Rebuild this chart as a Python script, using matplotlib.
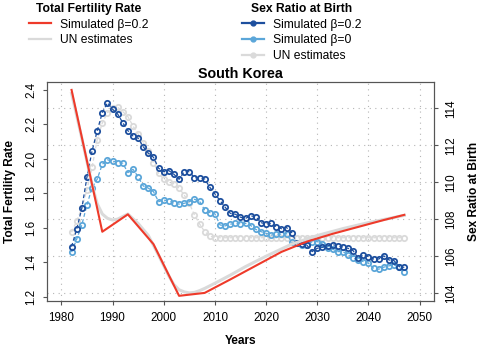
import matplotlib
matplotlib.use('Agg')
import matplotlib.pyplot as plt
from matplotlib.lines import Line2D

plt.rcParams['font.family'] = ['Liberation Sans', 'DejaVu Sans']
plt.rcParams['font.size'] = 8.6

# sex ratio at birth, one value per year 1982..2047
years = list(range(1982, 2048))
srb_beta02 = [106.52, 107.46, 108.59, 110.27, 111.69, 112.77, 113.76, 114.30, 113.95, 113.69,
              113.22, 112.79, 112.50, 112.38, 111.92, 111.57, 111.35, 110.76, 110.57, 110.63,
              110.43, 110.16, 110.57, 110.57, 110.25, 110.22, 110.18, 109.73, 109.37, 109.01,
              108.65, 108.32, 108.27, 108.11, 108.05, 108.18, 108.14, 107.82, 107.73, 107.78,
              107.60, 107.49, 107.55, 107.28, 106.70, 106.65, 106.59, 106.25, 106.43, 106.49,
              106.56, 106.63, 106.56, 106.50, 106.43, 106.30, 105.89, 106.07, 105.98, 105.85,
              105.85, 106.02, 105.80, 105.76, 105.44, 105.40]
srb_beta0 = [106.22, 106.92, 107.69, 108.77, 109.71, 110.16, 110.97, 111.21, 111.15, 111.06,
             111.03, 110.52, 110.70, 110.30, 109.80, 109.68, 109.49, 108.95, 109.04, 108.99,
             108.86, 108.82, 108.86, 108.95, 109.08, 108.97, 108.50, 108.36, 108.29, 107.69,
             107.64, 107.73, 107.78, 107.75, 107.78, 107.66, 107.45, 107.33, 107.24, 107.15,
             107.18, 107.20, 107.22, 106.75, 106.70, 106.62, 106.62, 106.79, 106.79, 106.66,
             106.43, 106.38, 106.25, 106.25, 106.07, 105.89, 105.80, 105.71, 105.62, 105.35,
             105.30, 105.41, 105.48, 105.53, 105.40, 105.17]
srb_un = [107.30, 107.90, 108.60, 109.60, 110.80, 112.30, 113.20, 113.76, 114.00, 114.05,
          113.82, 113.55, 113.04, 112.61, 112.14, 111.69, 111.06, 110.49, 110.16, 110.03,
          109.91, 109.68, 109.31, 108.86, 108.23, 107.75, 107.33, 107.10, 107.00, 107.00,
          107.00, 107.00, 107.00, 107.00, 107.00, 107.00, 107.00, 107.00, 107.00, 107.00,
          107.00, 107.00, 107.00, 107.00, 107.00, 107.00, 107.00, 107.00, 107.00, 107.00,
          107.00, 107.00, 107.00, 107.00, 107.00, 107.00, 107.00, 107.00, 107.00, 107.00,
          107.00, 107.00, 107.00, 107.00, 107.00, 107.00]

# total fertility rate
tfr_sim_years = [1982, 1988, 1993, 1998, 2003, 2008, 2013, 2018, 2023, 2028, 2033, 2038, 2043, 2047]
tfr_sim = [2.40, 1.577, 1.678, 1.505, 1.205, 1.222, 1.30, 1.38, 1.46, 1.52, 1.565, 1.605, 1.645, 1.675]
tfr_un_years = [1982, 1984, 1986, 1987, 1988, 1989, 1990, 1991, 1992, 1993, 1995, 1997, 1999, 2001,
                2002, 2003, 2004, 2005, 2006, 2007, 2008, 2010, 2013, 2016, 2020, 2025, 2030, 2035,
                2040, 2045, 2047]
tfr_un = [2.38, 2.12, 1.85, 1.74, 1.68, 1.655, 1.645, 1.65, 1.665, 1.68, 1.625, 1.555, 1.44, 1.32,
          1.27, 1.24, 1.228, 1.222, 1.225, 1.235, 1.248, 1.278, 1.325, 1.375, 1.435, 1.505, 1.555,
          1.595, 1.63, 1.66, 1.672]

RED = '#ee3a2a'
DARK = '#1d4f9e'
LIGHT = '#5ba6d9'
GREY = '#dadada'
FAM = ['Liberation Sans', 'DejaVu Sans']

fig = plt.figure(figsize=(4.8, 3.47), dpi=100)
ax = fig.add_axes([47/480, 1 - 301/347, (434 - 47)/480, (301 - 82)/347])
ax2 = ax.twinx()

# SRB on the bottom axes, ticks on the right
ax.yaxis.tick_right()
ax.yaxis.set_label_position('right')
ax2.yaxis.tick_left()
ax2.yaxis.set_label_position('left')

mk = dict(marker='o', ms=3.8, mfc='none', mew=1.3, lw=0.9, linestyle=(0, (3, 2)))
ax.plot(years, srb_un, color=GREY, **mk)
ax.plot(years, srb_beta0, color=LIGHT, **mk)
ax.plot(years, srb_beta02, color=DARK, **mk)

ax2.plot(tfr_un_years, tfr_un, color=GREY, lw=2.2, solid_joinstyle='round')
ax2.plot(tfr_sim_years, tfr_sim, color=RED, lw=1.5)

ax.set_xlim(1977.2, 2052.8)
ax.set_xticks(range(1980, 2051, 10))
ax.set_ylim(103.58, 115.42)
ax.set_yticks(range(104, 115, 2))
ax2.set_ylim(1.175, 2.446)
ax2.set_yticks([1.2, 1.4, 1.6, 1.8, 2.0, 2.2, 2.4])
ax2.set_yticklabels(['1.2', '1.4', '1.6', '1.8', '2.0', '2.2', '2.4'])

ax.grid(True, color='#b5b5b5', lw=0.8, linestyle=(0, (1, 4)))
ax.set_axisbelow(True)

for a in (ax, ax2):
    for s in a.spines.values():
        s.set_color('#555555')
        s.set_linewidth(0.8)
    a.tick_params(direction='out', length=3, width=0.8, color='#555555', labelsize=8.4)
ax.tick_params(axis='x', pad=5)
ax.tick_params(axis='y', pad=5)
ax2.tick_params(axis='y', pad=4)
for t in ax.get_yticklabels() + ax2.get_yticklabels():
    t.set_rotation(90)
    t.set_va('center')

ax.set_xlabel('Years', fontweight='bold', labelpad=8)
ax.set_ylabel('Sex Ratio at Birth', fontweight='bold', labelpad=8)
ax2.set_ylabel('Total Fertility Rate', fontweight='bold', labelpad=7)
ax.set_title('South Korea', fontweight='bold', fontsize=10.3, pad=3)

title_fp = {'family': FAM, 'weight': 'bold', 'size': 8.7}
h1 = [Line2D([], [], color=RED, lw=1.6), Line2D([], [], color=GREY, lw=1.6)]
leg1 = fig.legend(h1, ['Simulated β=0.2', 'UN estimates'], title='Total Fertility Rate',
                  title_fontproperties=title_fp,
                  loc='upper left', bbox_to_anchor=(29/480, 1 - 3/347), frameon=False,
                  borderpad=0, borderaxespad=0, handlelength=1.8, handletextpad=0.8,
                  labelspacing=0.3, fontsize=8.7)
h2 = [Line2D([], [], color=DARK, lw=1.6, marker='o', ms=3.5),
      Line2D([], [], color=LIGHT, lw=1.6, marker='o', ms=3.5),
      Line2D([], [], color=GREY, lw=1.6, marker='o', ms=3.5)]
leg2 = fig.legend(h2, ['Simulated β=0.2', 'Simulated β=0', 'UN estimates'], title='Sex Ratio at Birth',
                  title_fontproperties=title_fp,
                  loc='upper left', bbox_to_anchor=(242/480, 1 - 3/347), frameon=False,
                  borderpad=0, borderaxespad=0, handlelength=1.8, handletextpad=0.8,
                  labelspacing=0.3, fontsize=8.7)

ax.set_zorder(1)
ax2.set_zorder(2)
ax.patch.set_visible(True)
ax2.patch.set_visible(False)

fig.savefig('out.png', dpi=100)
